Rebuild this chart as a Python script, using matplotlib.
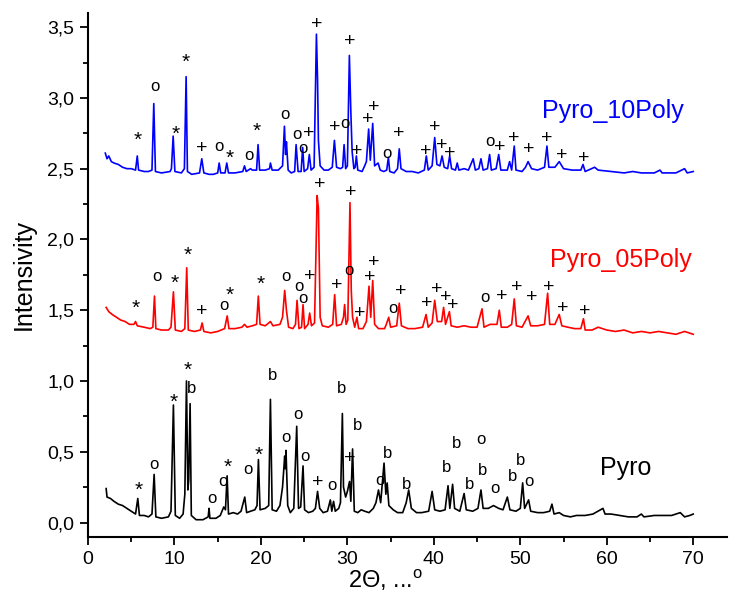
import numpy as np
import matplotlib
matplotlib.use("Agg")
import matplotlib.pyplot as plt
from matplotlib.ticker import MultipleLocator, FuncFormatter

plt.rcParams['font.family'] = ['Liberation Sans', 'DejaVu Sans']
plt.rcParams['mathtext.fontset'] = 'custom'
plt.rcParams['mathtext.rm'] = 'Liberation Sans'

# diffractogram traces, (2theta, intensity)
pyro_10poly = [
    (2.0, 2.61), (2.2, 2.57), (2.4, 2.59), (2.7, 2.55), (3.0, 2.54), (3.5, 2.53), (4.0, 2.51),
    (4.5, 2.50), (5.0, 2.50), (5.5, 2.49), (5.7, 2.59), (5.85, 2.49), (6.5, 2.48), (7.0, 2.48),
    (7.4, 2.49), (7.61, 2.96), (7.8, 2.48), (8.5, 2.47), (9.5, 2.48), (9.65, 2.50), (9.85, 2.73),
    (10.05, 2.48), (10.8, 2.47), (11.15, 2.50), (11.35, 3.15), (11.5, 2.48), (12.0, 2.46),
    (12.9, 2.47), (13.16, 2.57), (13.4, 2.47), (14.0, 2.46), (14.5, 2.46), (15.0, 2.47),
    (15.17, 2.54), (15.35, 2.47), (15.85, 2.47), (16.05, 2.54), (16.25, 2.47), (17.0, 2.47),
    (17.9, 2.48), (18.1, 2.52), (18.3, 2.48), (18.8, 2.50), (19.0, 2.49), (19.5, 2.49),
    (19.67, 2.67), (19.85, 2.49), (20.5, 2.49), (21.0, 2.50), (21.1, 2.54), (21.3, 2.49),
    (22.0, 2.49), (22.5, 2.52), (22.72, 2.80), (22.85, 2.60), (22.95, 2.69), (23.15, 2.49),
    (23.5, 2.47), (23.9, 2.48), (24.07, 2.67), (24.3, 2.48), (24.65, 2.48), (24.83, 2.65),
    (25.0, 2.48), (25.4, 2.50), (25.6, 2.60), (25.8, 2.49), (26.15, 2.51), (26.42, 3.45),
    (26.55, 3.13), (26.65, 2.70), (26.85, 2.52), (27.3, 2.49), (27.8, 2.49), (28.25, 2.51),
    (28.5, 2.70), (28.75, 2.51), (29.2, 2.50), (29.45, 2.51), (29.62, 2.67), (29.8, 2.50),
    (30.0, 2.52), (30.23, 3.30), (30.4, 2.90), (30.55, 2.62), (30.75, 2.50), (30.9, 2.51),
    (31.04, 2.59), (31.2, 2.49), (31.7, 2.48), (32.0, 2.52), (32.2, 2.55), (32.46, 2.78),
    (32.65, 2.56), (32.93, 2.82), (33.15, 2.52), (33.55, 2.54), (33.8, 2.49), (34.2, 2.48),
    (34.55, 2.49), (34.74, 2.58), (34.9, 2.48), (35.4, 2.47), (35.8, 2.50), (36.0, 2.64),
    (36.2, 2.50), (36.8, 2.48), (37.5, 2.48), (38.2, 2.47), (38.9, 2.49), (39.13, 2.59),
    (39.35, 2.49), (39.8, 2.52), (40.1, 2.72), (40.35, 2.53), (40.7, 2.52), (40.95, 2.59),
    (41.2, 2.51), (41.6, 2.50), (41.83, 2.59), (42.05, 2.50), (42.5, 2.49), (42.7, 2.54),
    (42.9, 2.49), (43.5, 2.50), (44.0, 2.49), (44.55, 2.57), (44.8, 2.49), (45.2, 2.50),
    (45.45, 2.57), (45.7, 2.49), (46.2, 2.50), (46.45, 2.60), (46.65, 2.49), (47.2, 2.50),
    (47.5, 2.60), (47.75, 2.49), (48.5, 2.49), (48.76, 2.55), (49.0, 2.49), (49.3, 2.66),
    (49.5, 2.49), (50.2, 2.48), (50.6, 2.51), (50.9, 2.55), (51.3, 2.50), (52.0, 2.49),
    (52.8, 2.51), (53.08, 2.66), (53.3, 2.51), (54.0, 2.51), (54.5, 2.55), (55.0, 2.50),
    (56.0, 2.49), (57.0, 2.49), (57.25, 2.53), (57.5, 2.48), (58.6, 2.51), (59.0, 2.49),
    (60.5, 2.48), (62.0, 2.47), (63.0, 2.48), (64.0, 2.47), (65.5, 2.47), (66.15, 2.49),
    (66.4, 2.47), (68.0, 2.47), (69.0, 2.50), (69.3, 2.47), (70.0, 2.48),
]

pyro_05poly = [
    (2.1, 1.52), (2.4, 1.49), (2.8, 1.47), (3.3, 1.45), (3.8, 1.43), (4.3, 1.42), (4.8, 1.40),
    (5.3, 1.40), (5.5, 1.42), (5.7, 1.39), (6.5, 1.38), (7.2, 1.37), (7.5, 1.38), (7.69, 1.60),
    (7.85, 1.37), (8.5, 1.36), (9.3, 1.36), (9.6, 1.38), (9.88, 1.63), (10.1, 1.36), (10.8, 1.35),
    (11.2, 1.37), (11.42, 1.80), (11.6, 1.36), (12.3, 1.35), (13.0, 1.36), (13.2, 1.41),
    (13.4, 1.35), (14.2, 1.34), (15.0, 1.35), (15.8, 1.37), (16.1, 1.46), (16.3, 1.37),
    (17.0, 1.37), (17.8, 1.38), (18.1, 1.40), (18.4, 1.38), (19.0, 1.39), (19.5, 1.40),
    (19.7, 1.60), (19.9, 1.40), (20.5, 1.39), (21.1, 1.42), (21.4, 1.39), (22.2, 1.40),
    (22.5, 1.45), (22.75, 1.64), (22.95, 1.50), (23.2, 1.38), (23.7, 1.37), (24.0, 1.40),
    (24.18, 1.57), (24.4, 1.37), (24.7, 1.38), (24.87, 1.54), (25.05, 1.37), (25.45, 1.40),
    (25.64, 1.48), (25.85, 1.39), (26.2, 1.41), (26.5, 2.31), (26.65, 2.22), (26.85, 1.45),
    (27.1, 1.39), (27.8, 1.38), (28.3, 1.40), (28.53, 1.61), (28.75, 1.39), (29.3, 1.40),
    (29.55, 1.45), (29.68, 1.54), (29.85, 1.40), (30.05, 1.43), (30.3, 2.26), (30.45, 1.64),
    (30.6, 1.45), (30.85, 1.38), (31.1, 1.45), (31.3, 1.37), (31.8, 1.37), (32.2, 1.42),
    (32.5, 1.67), (32.7, 1.45), (32.93, 1.71), (33.15, 1.40), (33.6, 1.37), (34.3, 1.37),
    (34.5, 1.40), (34.78, 1.45), (35.0, 1.38), (35.7, 1.39), (36.0, 1.55), (36.25, 1.39),
    (37.0, 1.37), (37.8, 1.37), (38.7, 1.38), (39.1, 1.47), (39.35, 1.38), (39.8, 1.41),
    (40.1, 1.57), (40.4, 1.42), (40.9, 1.42), (41.13, 1.52), (41.35, 1.40), (41.8, 1.49),
    (42.0, 1.39), (42.7, 1.38), (43.5, 1.39), (44.3, 1.38), (45.0, 1.38), (45.57, 1.51),
    (45.8, 1.38), (46.5, 1.40), (47.3, 1.40), (47.57, 1.50), (47.8, 1.38), (48.5, 1.38),
    (49.0, 1.40), (49.3, 1.58), (49.55, 1.39), (50.2, 1.38), (50.9, 1.46), (51.2, 1.39),
    (52.0, 1.39), (52.8, 1.40), (53.16, 1.62), (53.4, 1.40), (54.0, 1.40), (54.5, 1.47),
    (54.8, 1.39), (55.5, 1.38), (56.3, 1.37), (57.0, 1.37), (57.3, 1.44), (57.5, 1.36),
    (58.3, 1.36), (59.0, 1.38), (60.0, 1.36), (61.0, 1.35), (62.0, 1.36), (63.0, 1.34),
    (64.0, 1.35), (65.0, 1.34), (66.0, 1.35), (67.0, 1.34), (68.0, 1.33), (69.0, 1.35),
    (70.0, 1.33),
]

pyro = [
    (2.1, 0.24), (2.2, 0.18), (2.6, 0.17), (3.0, 0.15), (3.5, 0.13), (4.0, 0.12), (4.5, 0.10),
    (5.0, 0.08), (5.5, 0.06), (5.76, 0.17), (5.95, 0.05), (6.5, 0.05), (7.0, 0.04), (7.4, 0.06),
    (7.65, 0.34), (7.85, 0.04), (8.5, 0.03), (9.3, 0.04), (9.6, 0.08), (9.88, 0.83), (10.1, 0.05),
    (10.6, 0.03), (11.0, 0.06), (11.2, 0.20), (11.39, 1.00), (11.55, 0.23), (11.65, 0.30),
    (11.81, 0.84), (11.95, 0.05), (12.5, 0.02), (13.3, 0.02), (13.9, 0.04), (14.0, 0.10),
    (14.1, 0.03), (14.8, 0.03), (15.3, 0.05), (15.7, 0.11), (15.9, 0.09), (16.09, 0.33),
    (16.25, 0.06), (16.8, 0.07), (17.3, 0.06), (17.7, 0.08), (18.13, 0.18), (18.35, 0.07),
    (18.8, 0.08), (19.3, 0.09), (19.55, 0.12), (19.71, 0.445), (19.9, 0.09), (20.5, 0.10),
    (20.9, 0.12), (21.1, 0.87), (21.3, 0.09), (21.8, 0.08), (22.2, 0.12), (22.5, 0.25),
    (22.75, 0.47), (22.82, 0.38), (22.9, 0.51), (23.1, 0.12), (23.4, 0.07), (23.8, 0.10),
    (24.14, 0.68), (24.35, 0.10), (24.6, 0.11), (24.87, 0.40), (25.05, 0.09), (25.5, 0.07),
    (26.0, 0.08), (26.3, 0.10), (26.55, 0.22), (26.8, 0.10), (27.2, 0.07), (27.7, 0.08),
    (28.03, 0.16), (28.2, 0.08), (28.4, 0.15), (28.6, 0.08), (29.0, 0.10), (29.2, 0.14),
    (29.42, 0.77), (29.55, 0.25), (29.8, 0.18), (30.0, 0.22), (30.25, 0.29), (30.4, 0.15),
    (30.6, 0.52), (30.8, 0.08), (31.2, 0.07), (31.6, 0.09), (32.0, 0.08), (32.5, 0.07),
    (33.0, 0.10), (33.3, 0.14), (33.6, 0.23), (33.85, 0.14), (34.24, 0.42), (34.45, 0.20),
    (34.6, 0.28), (34.8, 0.12), (35.3, 0.09), (35.8, 0.07), (36.4, 0.07), (36.8, 0.14),
    (37.09, 0.23), (37.4, 0.10), (38.0, 0.07), (38.6, 0.07), (39.4, 0.08), (39.8, 0.22),
    (40.1, 0.09), (40.7, 0.08), (41.3, 0.09), (41.64, 0.26), (41.85, 0.10), (42.17, 0.27),
    (42.4, 0.10), (43.0, 0.08), (43.5, 0.205), (43.75, 0.09), (44.5, 0.08), (45.1, 0.10),
    (45.45, 0.23), (45.7, 0.10), (46.3, 0.10), (46.9, 0.12), (47.5, 0.10), (48.0, 0.09),
    (48.5, 0.18), (48.8, 0.09), (49.5, 0.08), (50.0, 0.10), (50.27, 0.28), (50.5, 0.10),
    (50.96, 0.16), (51.2, 0.08), (52.0, 0.07), (52.7, 0.07), (53.4, 0.08), (53.66, 0.13),
    (53.9, 0.06), (54.5, 0.07), (55.0, 0.05), (55.8, 0.04), (56.5, 0.05), (57.5, 0.05),
    (58.4, 0.06), (59.56, 0.10), (59.8, 0.06), (60.5, 0.06), (61.5, 0.05), (62.5, 0.04),
    (63.5, 0.04), (64.0, 0.06), (64.3, 0.04), (65.5, 0.05), (66.5, 0.05), (67.5, 0.05),
    (68.5, 0.07), (69.0, 0.04), (69.6, 0.05), (70.0, 0.06),
]

# phase marks: (symbol, 2theta, intensity)
marks_10poly = [
    ('*', 5.76, 2.75), ('o', 7.69, 3.08), ('*', 10.1, 2.79), ('*', 11.35, 3.30),
    ('+', 13.16, 2.65), ('o', 15.2, 2.66), ('*', 16.4, 2.62), ('o', 18.6, 2.59),
    ('*', 19.55, 2.81), ('o', 22.83, 2.88), ('o', 24.18, 2.74), ('o', 24.83, 2.64),
    ('+', 25.5, 2.755), ('+', 26.42, 3.53), ('+', 28.5, 2.80), ('o', 29.77, 2.82),
    ('+', 30.23, 3.41), ('+', 31.1, 2.63), ('+', 32.4, 2.86), ('+', 33.04, 2.94),
    ('o', 34.6, 2.61), ('+', 35.93, 2.755), ('+', 39.1, 2.63), ('+', 40.1, 2.80),
    ('+', 40.9, 2.675), ('+', 41.8, 2.62), ('o', 46.5, 2.69), ('+', 47.57, 2.66),
    ('+', 49.2, 2.72), ('+', 51.0, 2.645), ('+', 53.04, 2.72), ('+', 54.8, 2.60),
    ('+', 57.3, 2.585),
]
marks_05poly = [
    ('*', 5.57, 1.56), ('o', 7.92, 1.74), ('*', 10.08, 1.74), ('*', 11.54, 1.935),
    ('+', 13.12, 1.50), ('o', 15.78, 1.53), ('*', 16.36, 1.655), ('*', 20.02, 1.73),
    ('o', 22.9, 1.74), ('o', 24.45, 1.67), ('o', 24.9, 1.58), ('+', 25.7, 1.75),
    ('+', 26.76, 2.40), ('+', 28.73, 1.685), ('o', 30.15, 1.78), ('+', 30.43, 2.34),
    ('+', 31.43, 1.485), ('+', 32.55, 1.74), ('+', 33.04, 1.85), ('o', 35.24, 1.51),
    ('+', 36.13, 1.64), ('+', 39.13, 1.56), ('+', 40.29, 1.655), ('+', 41.33, 1.60),
    ('+', 42.2, 1.545), ('o', 45.95, 1.59), ('+', 47.84, 1.61), ('+', 49.6, 1.67),
    ('+', 51.35, 1.60), ('+', 53.3, 1.67), ('+', 54.86, 1.52), ('+', 57.4, 1.50),
]
marks_pyro = [
    ('*', 5.9, 0.275), ('o', 7.65, 0.41), ('*', 9.96, 0.895), ('*', 11.54, 1.12),
    ('b', 12.0, 0.96), ('o', 14.28, 0.17), ('o', 15.58, 0.29), ('*', 16.2, 0.435),
    ('o', 18.52, 0.377), ('*', 19.71, 0.52), ('b', 21.4, 1.05), ('o', 22.9, 0.60),
    ('o', 24.26, 0.764), ('o', 25.1, 0.47), ('+', 26.57, 0.29), ('o', 28.25, 0.265),
    ('b', 29.27, 0.96), ('+', 30.27, 0.46), ('b', 31.2, 0.70), ('o', 33.74, 0.30),
    ('b', 34.7, 0.50), ('b', 36.79, 0.28), ('b', 41.52, 0.40), ('b', 42.68, 0.57),
    ('b', 44.14, 0.28), ('o', 45.45, 0.59), ('b', 45.65, 0.38), ('o', 47.1, 0.24),
    ('b', 49.15, 0.335), ('b', 50.0, 0.45), ('o', 50.96, 0.29),
]

series = [
    ('Pyro', pyro, marks_pyro, 'black', (59.25, 0.384)),
    ('Pyro_05Poly', pyro_05poly, marks_05poly, '#ff0000', (53.4, 1.855)),
    ('Pyro_10Poly', pyro_10poly, marks_10poly, '#0000ff', (52.5, 2.904)),
]

# per-glyph size and vertical nudge (points) so the glyph centre sits on the mark
glyph_size = {'*': 15, '+': 14, 'b': 12, 'o': 12}
glyph_shift = {'*': -4.8, '+': -1.0, 'b': -1.2, 'o': 0.0}

fig = plt.figure(figsize=(7.29, 6.01), dpi=100)
ax = fig.add_axes([0.1207, 0.107, 0.8765, 0.8714])

for name, pts, marks, color, label_pos in series:
    tt, yy = np.array(pts).T
    ax.plot(tt, yy, color=color, lw=1.2)
    for sym, x, y in marks:
        ax.annotate(sym, (x, y), xytext=(0, glyph_shift[sym]), textcoords='offset points',
                    ha='center', va='center', fontsize=glyph_size[sym], color='black')
    ax.text(label_pos[0], label_pos[1], name, color=color, fontsize=18,
            ha='left', va='center')

ax.set_xlim(0, 73.9)
ax.set_ylim(-0.1, 3.6)
ax.spines['top'].set_visible(False)
ax.spines['right'].set_visible(False)
for s in ('left', 'bottom'):
    ax.spines[s].set_linewidth(1.5)

ax.xaxis.set_major_locator(MultipleLocator(10))
ax.xaxis.set_minor_locator(MultipleLocator(5))
ax.yaxis.set_major_locator(MultipleLocator(0.5))
ax.yaxis.set_minor_locator(MultipleLocator(0.25))
ax.yaxis.set_major_formatter(FuncFormatter(lambda v, p: f"{v:.1f}".replace('.', ',')))
ax.set_xticks([0, 10, 20, 30, 40, 50, 60, 70])
ax.tick_params(which='major', direction='out', length=6, width=1.3, labelsize=14, pad=4)
ax.tick_params(which='minor', direction='out', length=3.5, width=1.3)

ax.set_xlabel(r"2Θ, ...$^{\mathrm{o}}$", fontsize=17, labelpad=0)
ax.xaxis.label.set_x(0.466)
ax.set_ylabel("Intensivity", fontsize=18, labelpad=8)

fig.savefig("out.png", dpi=100)
